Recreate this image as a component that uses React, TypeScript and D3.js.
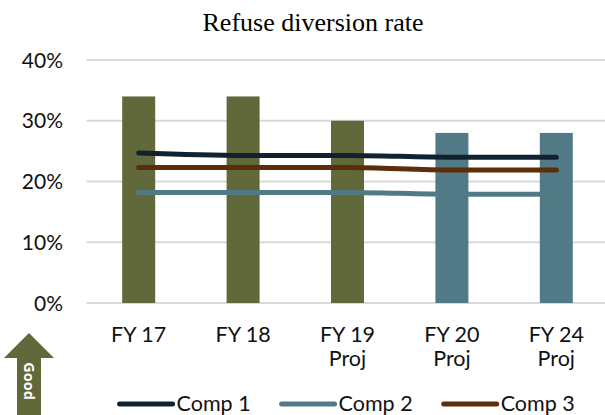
import React from "react";
import * as d3 from "d3";

const categories = ["FY 17", "FY 18", "FY 19 Proj", "FY 20 Proj", "FY 24 Proj"];
const categoryLines = [["FY 17"], ["FY 18"], ["FY 19", "Proj"], ["FY 20", "Proj"], ["FY 24", "Proj"]];
const barValues = [0.34, 0.34, 0.30, 0.28, 0.28];
const comp1 = [0.247, 0.243, 0.243, 0.240, 0.240];
const comp2 = [0.182, 0.182, 0.182, 0.179, 0.179];
const comp3 = [0.223, 0.223, 0.223, 0.219, 0.219];
const seriesNames = ["Comp 1", "Comp 2", "Comp 3"];
const yTicks = [0, 0.1, 0.2, 0.3, 0.4];

const OLIVE = "#616839";
const TEAL = "#527a86";
const barColors = [OLIVE, OLIVE, OLIVE, TEAL, TEAL];
const lineColors = ["#10222f", "#527a86", "#5c2d08"];
const SANS = "Lato, 'Liberation Sans', sans-serif";

export default function App() {
  const W = 605, H = 415;
  const x = d3.scalePoint<string>().domain(categories).range([86.5, 608.5]).padding(0.5);
  const step = x.step();
  const barW = step * 0.316;
  const y = d3.scaleLinear().domain([0, 0.4]).range([303, 60]);
  const line = d3
    .line<number>()
    .x((_, i) => x(categories[i]) as number)
    .y((d) => y(d))
    .curve(d3.curveMonotoneX);
  const series = [comp1, comp2, comp3];
  const legendX = [119.6, 281.6, 443.7];

  return (
    <svg width={W} height={H} style={{ position: "absolute", left: 0, top: 0, background: "#fff" }}>
      <rect x={0} y={0} width={W} height={H} fill="#fff" />
      <text x={313} y={31} textAnchor="middle" fontFamily="'Liberation Serif', 'Times New Roman', serif" fontSize={26} fill="#000">
        Refuse diversion rate
      </text>
      {yTicks.map((t) => (
        <g key={t}>
          <line x1={86.5} x2={W} y1={y(t)} y2={y(t)} stroke="#d9d9d9" strokeWidth={2} />
          <text x={63} y={y(t) + 7.5} textAnchor="end" fontFamily={SANS} fontSize={21} fill="#111">
            {d3.format(".0%")(t)}
          </text>
        </g>
      ))}
      {barValues.map((v, i) => (
        <rect
          key={i}
          x={(x(categories[i]) as number) - barW / 2}
          y={y(v)}
          width={barW}
          height={y(0) - y(v)}
          fill={barColors[i]}
        />
      ))}
      {series.map((s, k) => (
        <path key={k} d={line(s) || ""} fill="none" stroke={lineColors[k]} strokeWidth={5} strokeLinecap="round" />
      ))}
      {categoryLines.map((lines, i) => (
        <text key={i} textAnchor="middle" fontFamily={SANS} fontSize={21.5} fill="#111">
          {lines.map((l, j) => (
            <tspan key={j} x={x(categories[i]) as number} y={342 + j * 23.5}>
              {l}
            </tspan>
          ))}
        </text>
      ))}
      {seriesNames.map((n, k) => (
        <g key={n}>
          <line x1={legendX[k]} x2={legendX[k] + 53} y1={404} y2={404} stroke={lineColors[k]} strokeWidth={5} strokeLinecap="round" />
          <text x={legendX[k] + 57} y={411} fontFamily={SANS} fontSize={21.5} fill="#111">
            {n}
          </text>
        </g>
      ))}
      <g>
        <path d="M29,333 L54,358 L41,358 L41,415 L17,415 L17,358 L4,358 Z" fill={OLIVE} />
        <text
          transform="translate(24,381) rotate(90)"
          textAnchor="middle"
          fontFamily="'Open Sans', 'Liberation Sans', sans-serif"
          fontWeight="bold"
          fontSize={14.5}
          fill="#fff"
        >
          Good
        </text>
      </g>
    </svg>
  );
}
